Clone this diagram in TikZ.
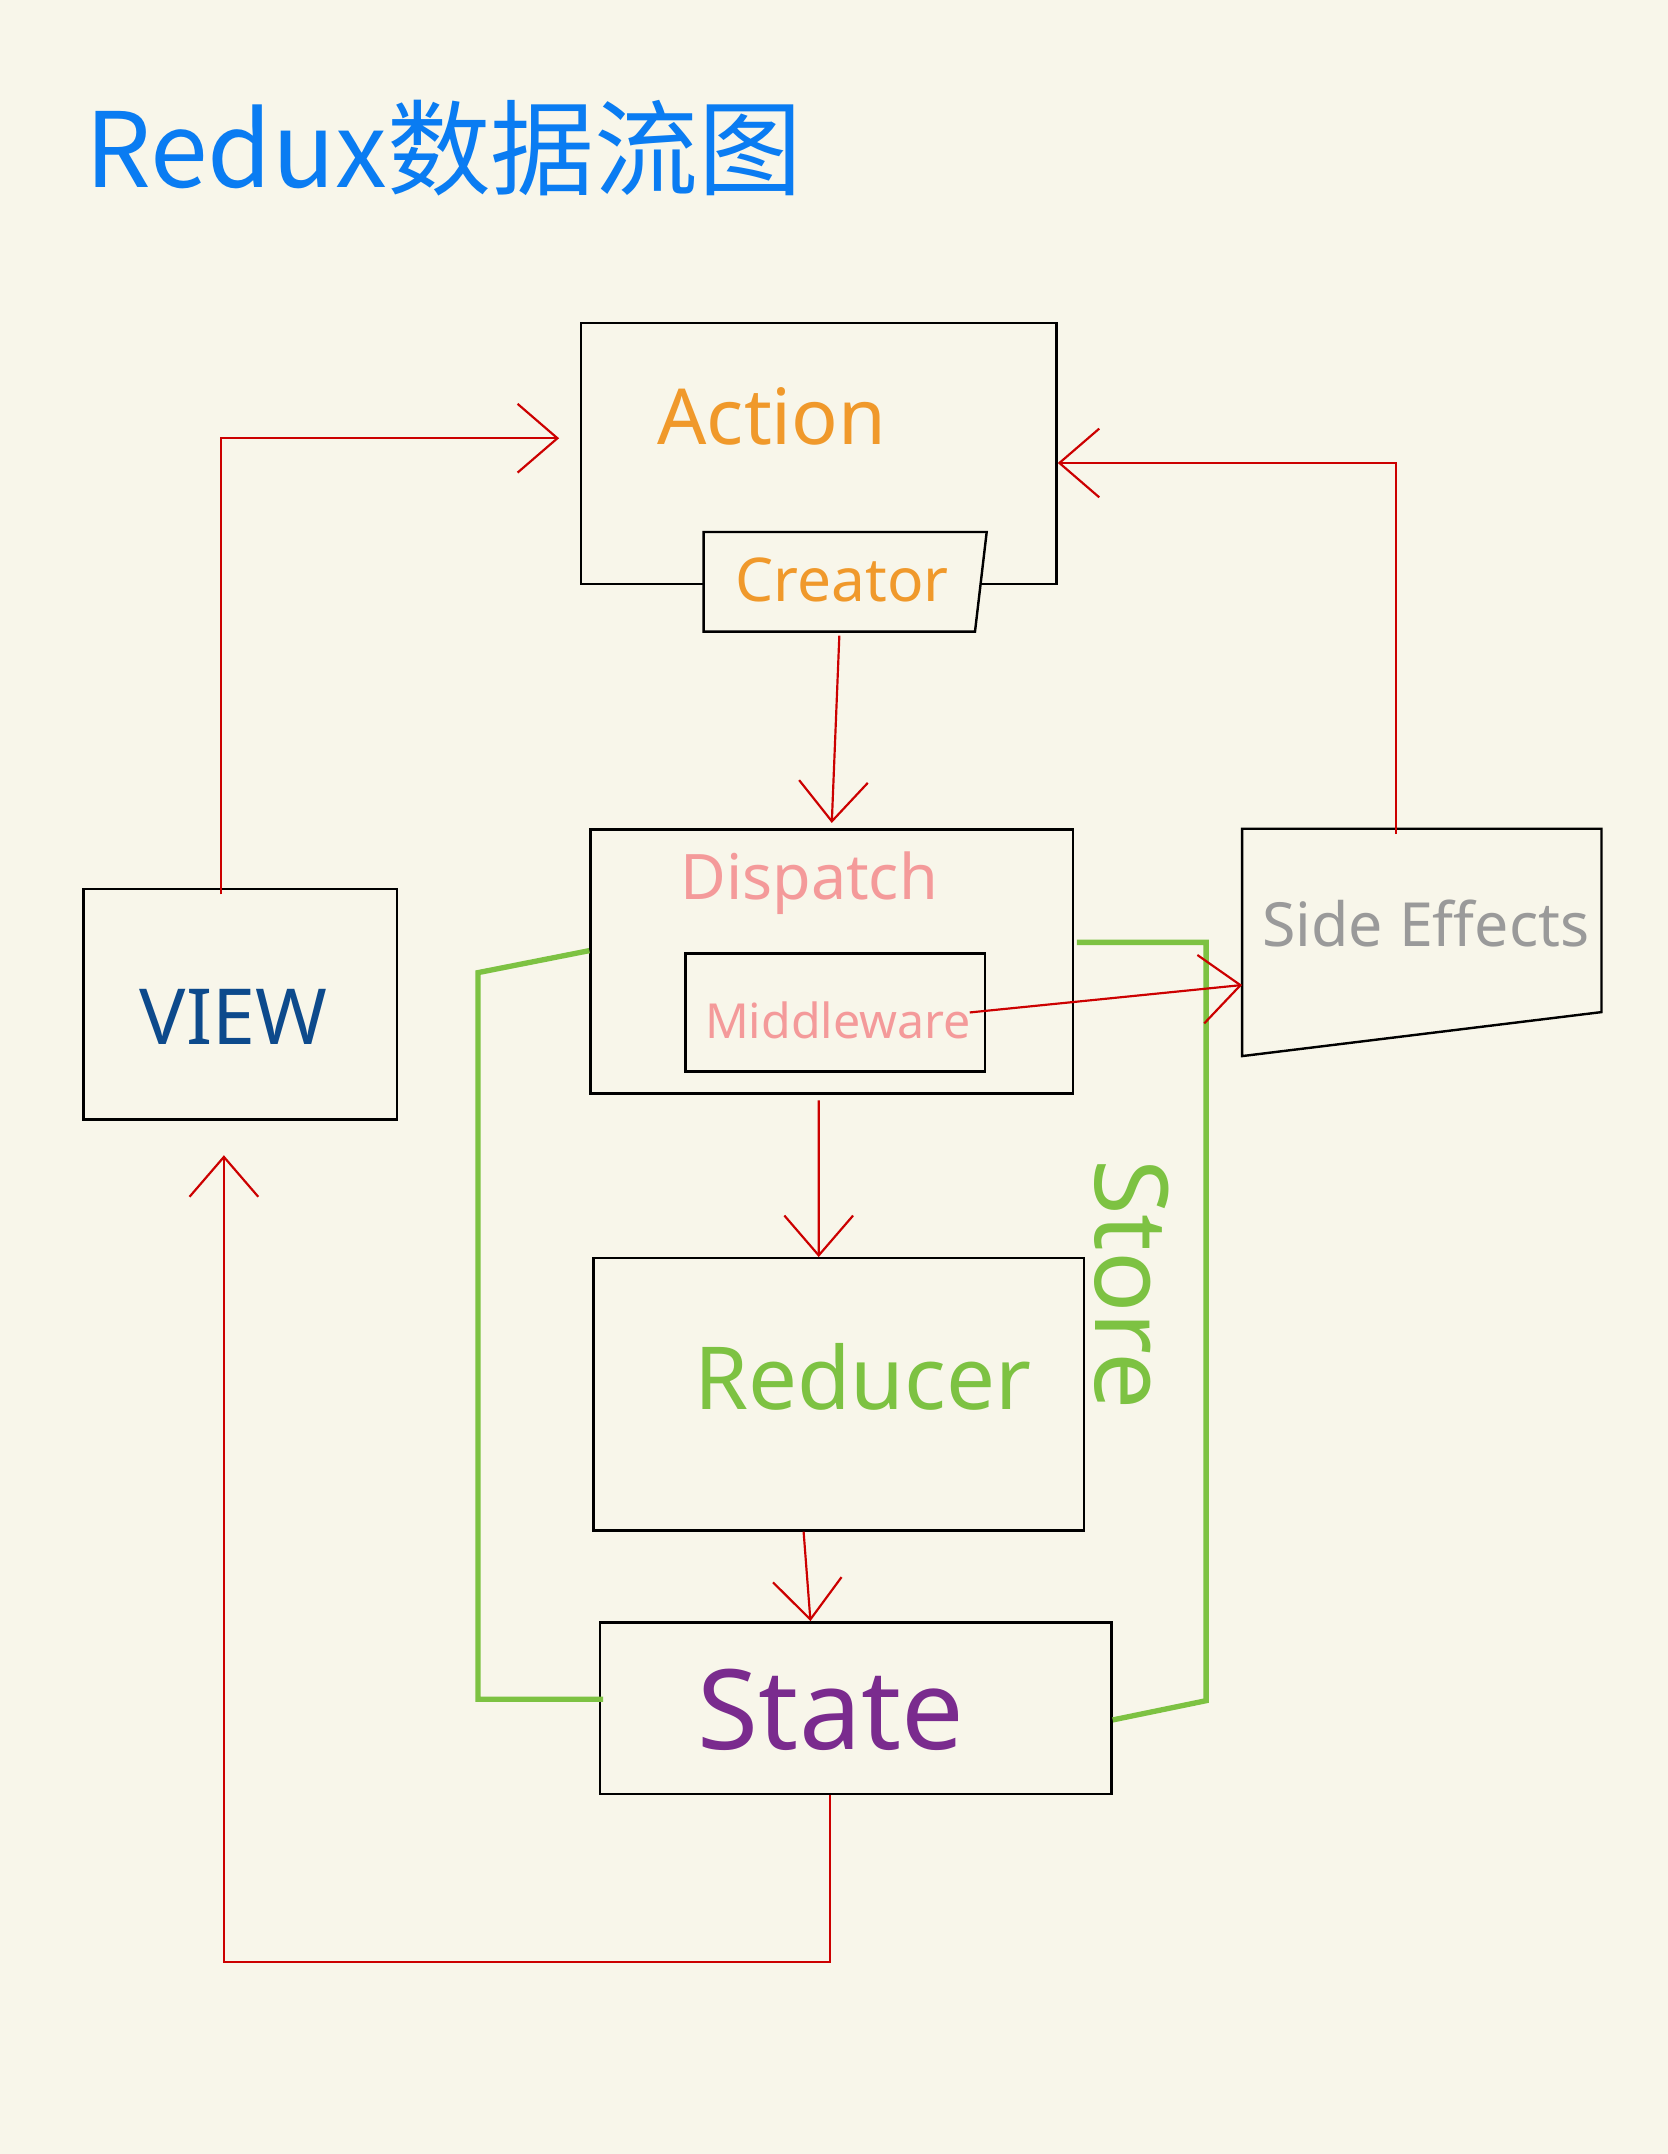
\documentclass[tikz,border=0pt]{standalone}
\usepackage{fontspec}
\setmainfont{Noto Sans}
\newfontfamily\cjk{Noto Sans CJK SC}
\usetikzlibrary{arrows.meta}
\definecolor{paper}{HTML}{F8F6EA}
\definecolor{titleblue}{HTML}{0A7CF2}
\definecolor{orangeink}{HTML}{F0992B}
\definecolor{pinkink}{HTML}{F49A9A}
\definecolor{grayink}{HTML}{9A9A9A}
\definecolor{viewblue}{HTML}{0D4A8C}
\definecolor{storegreen}{HTML}{7DC242}
\definecolor{purpleink}{HTML}{7A2B8E}
\definecolor{redline}{HTML}{CC0000}

\begin{document}
\begin{tikzpicture}[x=0.01cm, y=-0.01cm,
        box/.style={draw, line width=0.5pt, inner sep=0pt},
        lbl/.style={inner sep=1pt},
        flow/.style={draw=redline, line width=0.45pt, ->},
        store/.style={draw=storegreen, line width=1.1pt, line join=miter},
        >={Straight Barb[length=2.9mm, width=5mm]}]
        \fill[paper] (0,0) rectangle (1214,1568);

        \node[lbl, anchor=west, text=titleblue, font=\cjk\fontsize{21.5}{25}\selectfont] (title) at (58,108) {Redux数据流图};

        % boxes
        \node[box, minimum width=3.46cm, minimum height=1.90cm] (action) at (596,330) {};
        \node[inner sep=0pt, minimum width=2.03cm, minimum height=0.71cm] (creator) at (614.5,423.5) {};
        \draw[box, fill=paper] (creator.north west) -- ([xshift=0.015cm]creator.north east)
            -- ([xshift=-0.07cm]creator.south east) -- (creator.south west) -- cycle;
        \node[box, minimum width=3.51cm, minimum height=1.92cm] (dispatch) at (605.5,700) {};
        \node[box, minimum width=2.18cm, minimum height=0.86cm] (mw) at (608,737) {};
        \node[inner sep=0pt, minimum width=2.6cm, minimum height=1.32cm] (side) at (1035,670) {};
        \draw[box] (side.north west) -- (side.north east) -- (side.south east)
            -- ([yshift=-0.32cm]side.south west) -- cycle;
        \node[box, minimum width=2.28cm, minimum height=1.68cm] (view) at (175,731) {};
        \node[box, minimum width=3.57cm, minimum height=1.98cm] (reducer) at (610.5,1015) {};
        \node[box, minimum width=3.72cm, minimum height=1.25cm] (state) at (623,1243.5) {};

        % store
        \draw[store] ([yshift=0.08cm]dispatch.west) -- (348,708) -- (348,1237)
            -- ([shift={(0.03cm,0.065cm)}]state.west);
        \draw[store] ([shift={(0.02cm,0.14cm)}]dispatch.east) -- (878,686) -- (878,1238)
            -- ([yshift=-0.085cm]state.east);

        % labels
        \node[lbl, text=orangeink, font=\fontsize{16}{18}\selectfont] (action text) at (562,303) {Action};
        \node[lbl, text=orangeink, font=\fontsize{12.5}{14}\selectfont] (creator text) at (613,422) {Creator};
        \node[lbl, text=pinkink, font=\fontsize{13}{15}\selectfont] (dispatch text) at (589,643) {Dispatch};
        \node[lbl, text=pinkink, font=\fontsize{10}{12}\selectfont] (mw text) at (610,743) {Middleware};
        \node[lbl, text=grayink, font=\fontsize{12.6}{14}\selectfont] (side text) at (1038,672) {Side Effects};
        \node[lbl, text=viewblue, font=\fontsize{16}{18}\selectfont] (view text) at (170,740) {VIEW};
        \node[lbl, text=storegreen, font=\fontsize{18}{20}\selectfont] (reducer text) at (628,1002) {Reducer};
        \node[lbl, text=purpleink, font=\fontsize{23}{25}\selectfont] (state text) at (605,1245) {State};
        \node[lbl, text=storegreen, rotate=-90, font=\fontsize{21}{24}\selectfont] (store text) at (824,935) {Store};

        % flows
        \draw[flow] ([shift={(-0.14cm,-0.05cm)}]view.north) |- ([shift={(-0.15cm,0.11cm)}]action.west);
        \draw[flow] ([shift={(-0.19cm,-0.04cm)}]side.north) |- ([yshift=-0.07cm]action.east);
        \draw[flow] ([shift={(-0.035cm,-0.03cm)}]creator.south) -- ([yshift=0.04cm]dispatch.north);
        \draw[flow] ([xshift=-0.12cm]mw.east) -- ([yshift=-0.47cm]side.west);
        \draw[flow] ([shift={(-0.095cm,-0.04cm)}]dispatch.south) -- ([xshift=-0.145cm]reducer.north);
        \draw[flow] ([xshift=-0.255cm]reducer.south) -- ([xshift=-0.33cm]state.north);
        \draw[flow] ([xshift=-0.19cm]state.south) -- ++(0,121) -| ([shift={(-0.12cm,-0.25cm)}]view.south);
    \end{tikzpicture}
\end{document}
